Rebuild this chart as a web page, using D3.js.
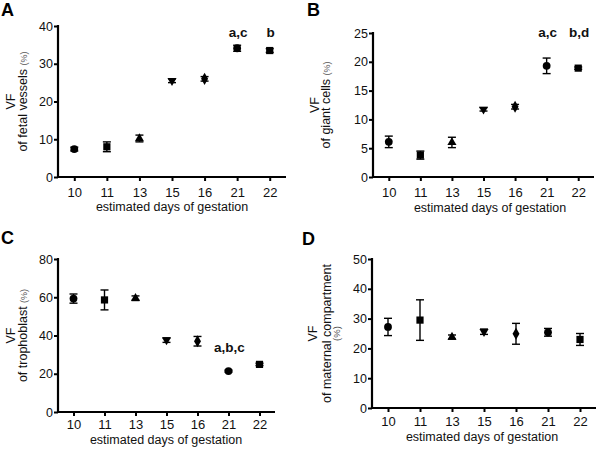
<!DOCTYPE html>
<html><head><meta charset="utf-8">
<script src="https://cdn.jsdelivr.net/npm/d3@7"></script>
<style>body{margin:0;background:#fff}svg{display:block}text{font-family:"Liberation Sans",Arial,sans-serif}</style>
</head><body>
<script>
const days = ["10","11","13","15","16","21","22"];
const symbols = ["circle","square","triangle","triangleDown","diamond","circle","square"];
const meanA = [7.4, 8.0, 10.2, 25.5, 26.0, 34.1, 33.5];
const errA  = [0.5, 1.3, 0.9, 0.5, 0.6, 0.8, 0.5];
const meanB = [6.1, 3.8, 6.0, 11.75, 12.2, 19.3, 18.9];
const errB  = [1.0, 0.7, 0.9, 0.3, 0.4, 1.35, 0.2];
const meanC = [59.3, 58.6, 59.5, 37.6, 37.0, 21.4, 24.9];
const errC  = [2.4, 5.2, 1.2, 1.2, 2.5, 0.5, 0.6];
const meanD = [27.2, 29.5, 23.8, 25.6, 24.9, 25.4, 23.0];
const errD  = [2.9, 6.8, 0.7, 0.9, 3.5, 1.3, 2.0];
const ticksA = [0,10,20,30,40], ticksB=[0,5,10,15,20,25], ticksC=[0,20,40,60,80], ticksD=[0,10,20,30,40,50];

const panels = [
 {letter:"A", lx:1, ly:16, mean:meanA, err:errA, ticks:ticksA, ymax:40, left:58, top:26, bottom:177, right:286,
  ylab:["VF","of fetal vessels"], pct:"inline", ylx:15, yl2:12, tickDy:20, titleDy:34, titleX:172,
  ann:[{i:5,t:"a,c"},{i:6,t:"b"}], annY:37},
 {letter:"B", lx:307, ly:16, mean:meanB, err:errB, ticks:ticksB, ymax:25, left:373, top:33, bottom:177, right:594,
  ylab:["VF","of giant cells"], pct:"inline", ylx:319, yl2:11, tickDy:20, titleDy:35, titleX:490,
  ann:[{i:5,t:"a,c"},{i:6,t:"b,d"}], annY:37},
 {letter:"C", lx:1, ly:244, mean:meanC, err:errC, ticks:ticksC, ymax:80, left:58, top:259, bottom:412, right:275,
  ylab:["VF","of trophoblast"], pct:"inline", ylx:15, yl2:12, tickDy:17, titleDy:32, titleX:166,
  ann:[{i:5,t:"a,b,c"}], annY:352},
 {letter:"D", lx:302, ly:245, mean:meanD, err:errD, ticks:ticksD, ymax:50, left:372, top:259, bottom:408, right:596,
  ylab:["VF","of maternal compartment"], pct:"line", ylx:317, yl2:14, tickDy:18, titleDy:33, titleX:482,
  ann:[], annY:0}
];

const svg = d3.select("body").append("svg").attr("width",600).attr("height",449);

panels.forEach(p=>{
  const g = svg.append("g");
  const x = d3.scalePoint().domain(days).range([p.left,p.right]).padding(0.5);
  const y = d3.scaleLinear().domain([0,p.ymax]).range([p.bottom,p.top]);

  g.append("text").attr("x",p.lx).attr("y",p.ly).attr("font-size",18).attr("font-weight","bold").text(p.letter);

  const ya = g.append("g").attr("transform",`translate(${p.left},0)`)
    .call(d3.axisLeft(y).tickValues(p.ticks).tickSize(4).tickPadding(1).tickFormat(d3.format("d")));
  const xa = g.append("g").attr("transform",`translate(0,${p.bottom})`)
    .call(d3.axisBottom(x).tickSize(4));
  [ya,xa].forEach(a=>{
    a.select(".domain").remove();
    a.selectAll(".tick line").attr("stroke","#000").attr("stroke-width",2);
    a.selectAll(".tick text").attr("fill","#111").style("font-family","Liberation Sans, Arial, sans-serif");
  });
  ya.selectAll(".tick text").attr("font-size",12.5);
  xa.selectAll(".tick text").attr("font-size",13).attr("dy",null).attr("y",p.tickDy);
  g.append("line").attr("x1",p.left).attr("x2",p.left).attr("y1",p.top-1).attr("y2",p.bottom+1).attr("stroke","#000").attr("stroke-width",2.2);
  g.append("line").attr("x1",p.left).attr("x2",p.right).attr("y1",p.bottom).attr("y2",p.bottom).attr("stroke","#000").attr("stroke-width",2.2);

  g.append("text").attr("x",p.titleX).attr("y",p.bottom+p.titleDy).attr("text-anchor","middle").attr("font-size",12.5).attr("fill","#111")
    .text("estimated days of gestation");

  const cy = (p.top+p.bottom)/2;
  const yl = g.append("g").attr("transform",`translate(${p.ylx},${cy}) rotate(-90)`);
  yl.append("text").attr("x",0).attr("y",0).attr("text-anchor","middle").attr("font-size",12.5).attr("fill","#111").text(p.ylab[0]);
  if(p.pct==="inline"){
    const t = yl.append("text").attr("x",0).attr("y",p.yl2).attr("text-anchor","middle").attr("font-size",12.5).attr("fill","#111");
    t.append("tspan").text(p.ylab[1]+" ");
    t.append("tspan").attr("font-size",9).attr("fill","#555").text("(%)");
  } else {
    yl.append("text").attr("x",0).attr("y",p.yl2).attr("text-anchor","middle").attr("font-size",12.5).attr("fill","#111").text(p.ylab[1]);
    yl.append("text").attr("x",0).attr("y",p.yl2+9).attr("text-anchor","middle").attr("font-size",9.5).attr("fill","#555").text("(%)");
  }

  const sym = {circle:d3.symbolCircle, square:d3.symbolSquare, triangle:d3.symbolTriangle, triangleDown:d3.symbolTriangle, diamond:d3.symbolDiamond};
  const size = {circle:48, square:52, triangle:36, triangleDown:36, diamond:42};
  days.forEach((d,i)=>{
    const px = x(d), m=p.mean[i], e=p.err[i];
    const y1=y(m+e), y2=y(m-e);
    const eg = g.append("g").attr("stroke","#000").attr("stroke-width",1.4);
    eg.append("line").attr("x1",px).attr("x2",px).attr("y1",y1).attr("y2",y2);
    eg.append("line").attr("x1",px-4).attr("x2",px+4).attr("y1",y1).attr("y2",y1);
    eg.append("line").attr("x1",px-4).attr("x2",px+4).attr("y1",y2).attr("y2",y2);
    const s = symbols[i];
    g.append("path").attr("d",d3.symbol().type(sym[s]).size(size[s])())
      .attr("transform",`translate(${px},${y(m)})`+(s==="triangleDown"?" rotate(180)":""))
      .attr("fill","#000");
  });

  p.ann.forEach(a=>{
    g.append("text").attr("x",x(days[a.i])+1).attr("y",p.annY).attr("text-anchor","middle")
      .attr("font-size",13.5).attr("font-weight","bold").attr("fill","#111").text(a.t);
  });
});
</script>
</body></html>
